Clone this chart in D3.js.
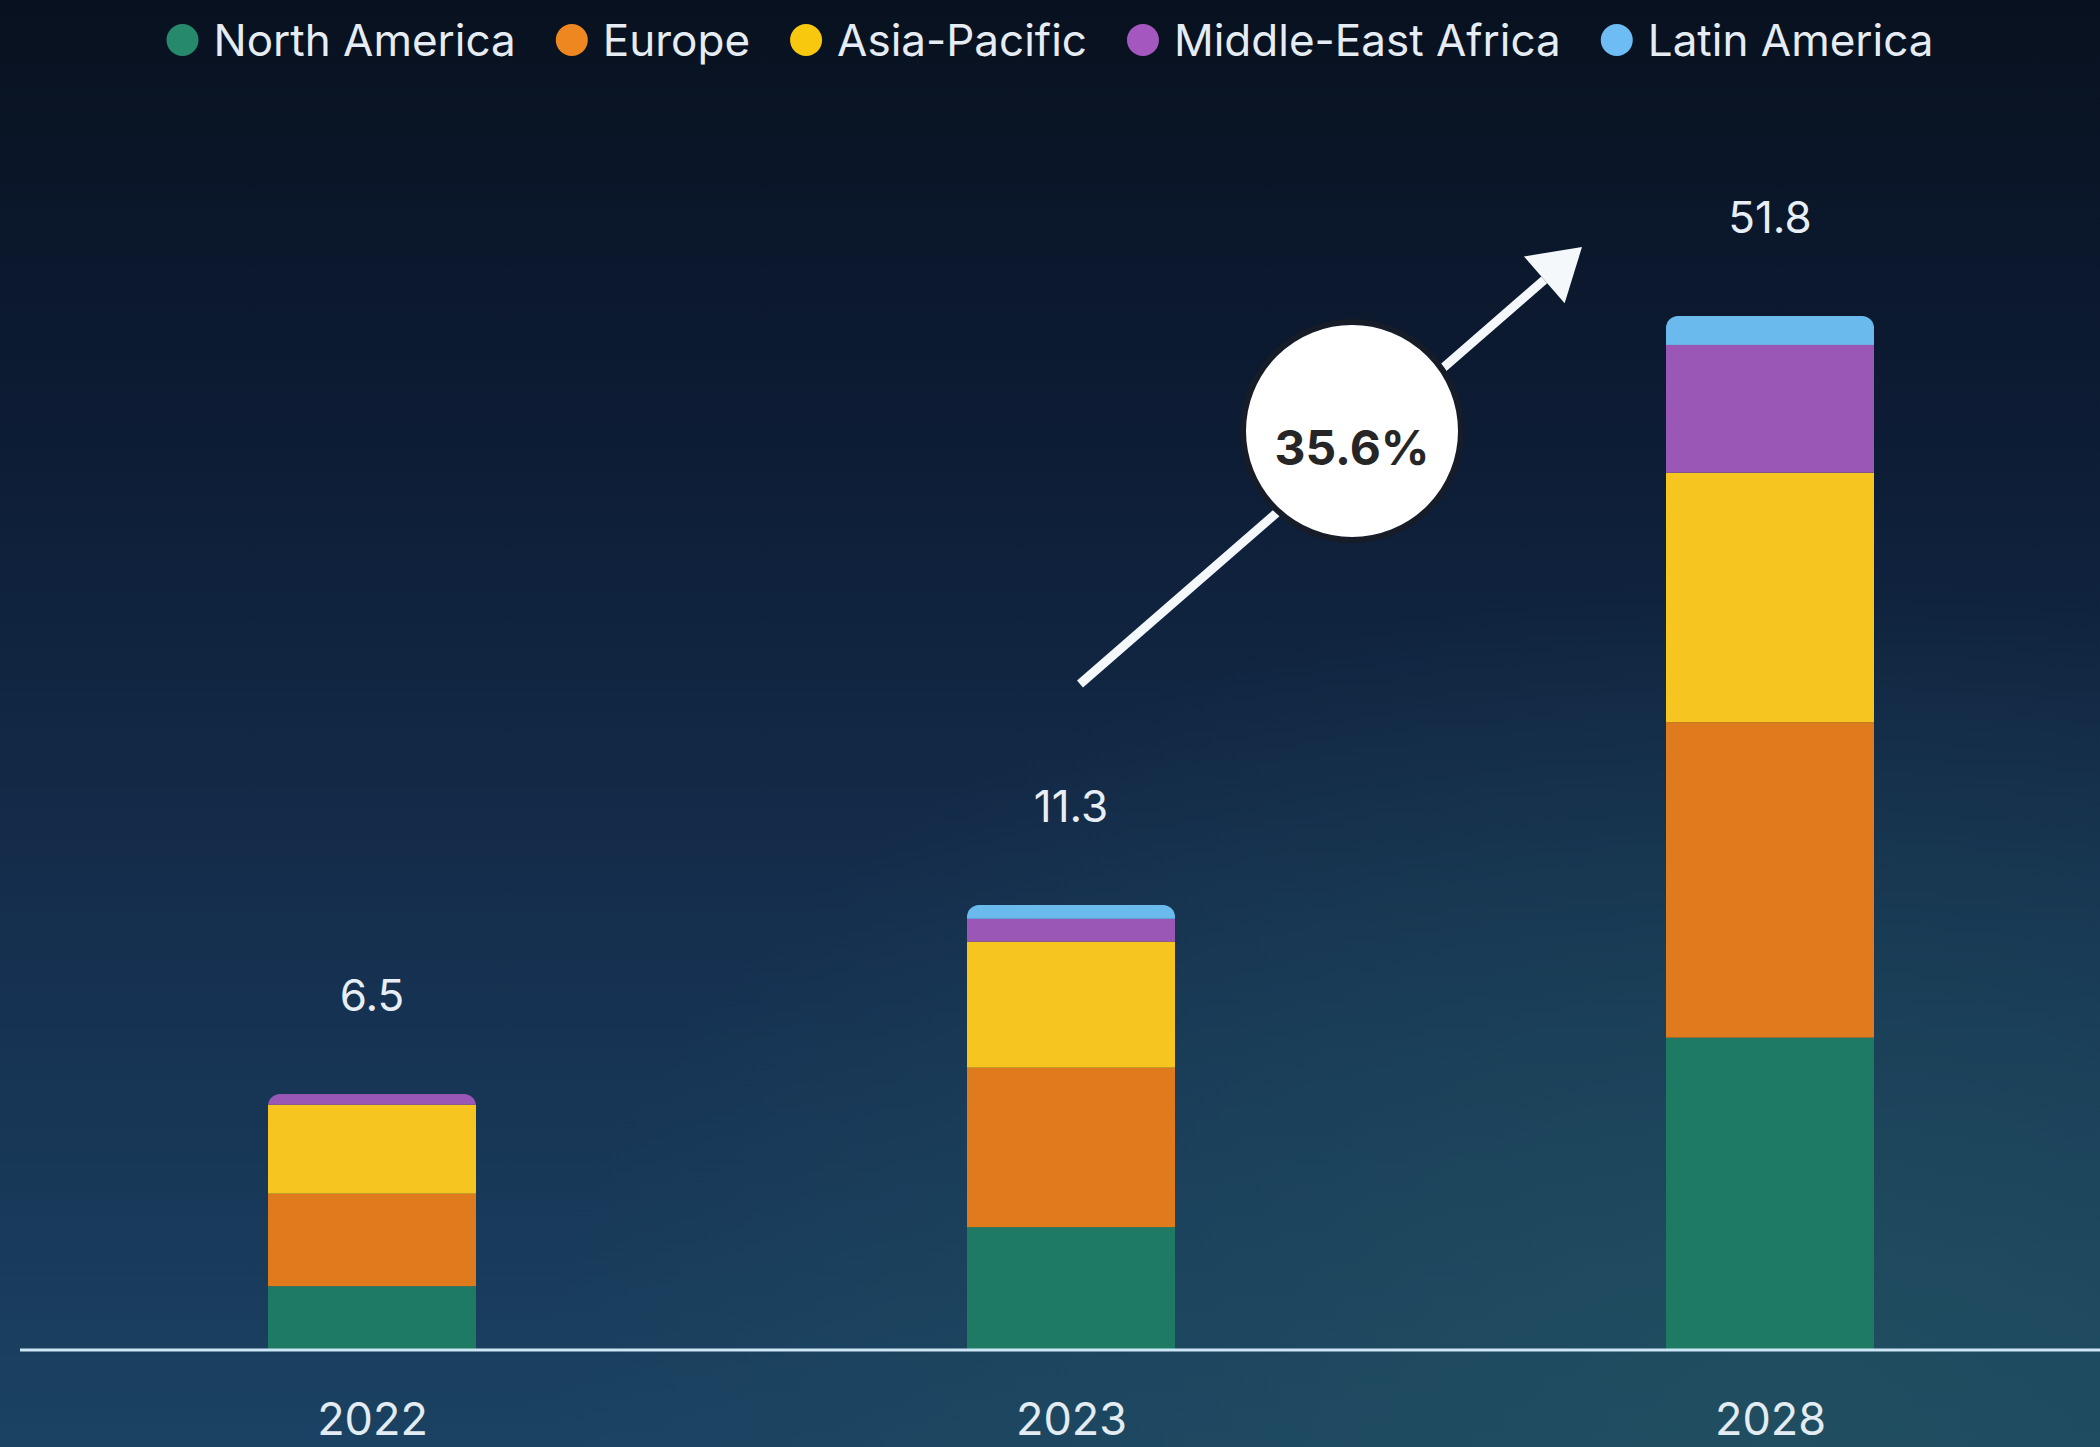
<!DOCTYPE html>
<html>
<head>
<meta charset="utf-8">
<script src="https://cdn.jsdelivr.net/npm/d3@7"></script>
<style>
  html, body { margin: 0; padding: 0; background: #0a1426; }
  svg { display: block; font-family: Inter, "Noto Sans", sans-serif; }
</style>
</head>
<body>
<svg id="chart" width="2100" height="1447"></svg>
<script>
// ---- data ----
const years = ["2022", "2023", "2028"];
const regions = ["North America", "Europe", "Asia-Pacific", "Middle-East Africa", "Latin America"];
const northAmerica = [1.62, 3.12, 15.65];
const europe       = [2.35, 4.05, 15.80];
const asiaPacific  = [2.26, 3.20, 12.50];
const middleEastAfrica = [0.27, 0.58, 6.40];
const latinAmerica = [0.00, 0.35, 1.45];
const totals = [6.5, 11.3, 51.8];
const cagrLabel = "35.6%";

const seriesValues = [northAmerica, europe, asiaPacific, middleEastAfrica, latinAmerica];
const barColors = ["#1f7a64", "#e07b1d", "#f6c51f", "#9a57b6", "#6bbaee"];
const legendColors = ["#27896c", "#ee871f", "#f8c80f", "#a457bf", "#6dbdf4"];

// ---- layout ----
const W = 2100, H = 1447;
const baseline = 1350;
const svg = d3.select("#chart");

// background
const defs = svg.append("defs");
const lg = defs.append("linearGradient").attr("id", "bg").attr("x1", 0).attr("y1", 0).attr("x2", 0).attr("y2", 1);
lg.append("stop").attr("offset", "0%").attr("stop-color", "#08111f");
lg.append("stop").attr("offset", "30%").attr("stop-color", "#0d1c35");
lg.append("stop").attr("offset", "70%").attr("stop-color", "#163252");
lg.append("stop").attr("offset", "100%").attr("stop-color", "#1b4262");
const rg = defs.append("radialGradient").attr("id", "bg2").attr("cx", 0.85).attr("cy", 1.0).attr("r", 0.6);
rg.append("stop").attr("offset", "0%").attr("stop-color", "#215060").attr("stop-opacity", 0.9);
rg.append("stop").attr("offset", "100%").attr("stop-color", "#215060").attr("stop-opacity", 0);
svg.append("rect").attr("width", W).attr("height", H).attr("fill", "url(#bg)");
svg.append("rect").attr("width", W).attr("height", H).attr("fill", "url(#bg2)");

// scales
const x = d3.scalePoint().domain(years).range([372, 1770]);
const barW = 208;
// broken (polylinear) height scale: the 2028 bar is compressed in the original graphic
const y = d3.scaleLinear().domain([0, totals[1], totals[2]]).range([baseline, baseline - 445, baseline - 1034]);

// stacked data
const rows = years.map((yr, i) => {
  const o = { year: yr, total: totals[i] };
  regions.forEach((r, j) => o[r] = seriesValues[j][i]);
  return o;
});
const stacked = d3.stack().keys(regions)(rows);

// clip paths with rounded top corners
rows.forEach((d, i) => {
  const top = y(d.total);
  defs.append("clipPath").attr("id", "clip" + i)
    .append("rect")
    .attr("x", x(d.year) - barW / 2).attr("y", top)
    .attr("width", barW).attr("height", baseline - top + 20)
    .attr("rx", 12).attr("ry", 12);
});

const barsG = svg.append("g");
stacked.forEach((layer, j) => {
  layer.forEach((seg, i) => {
    const d = rows[i];
    const inner = d3.scaleLinear().domain([0, d.total]).range([baseline, y(d.total)]);
    const v = seg[1] - seg[0];
    if (v <= 0) return;
    barsG.append("rect")
      .attr("clip-path", `url(#clip${i})`)
      .attr("x", x(d.year) - barW / 2)
      .attr("y", inner(seg[1]))
      .attr("width", barW)
      .attr("height", inner(seg[0]) - inner(seg[1]))
      .attr("fill", barColors[j]);
  });
});

// totals
svg.append("g").selectAll("text").data(rows).join("text")
  .attr("x", d => x(d.year))
  .attr("y", d => y(d.total) - 83)
  .attr("text-anchor", "middle")
  .attr("font-size", 44)
  .attr("fill", "#e8eef5")
  .text(d => d.total.toFixed(1));

// baseline
svg.append("line").attr("x1", 20).attr("x2", W).attr("y1", baseline).attr("y2", baseline)
  .attr("stroke", "#cde6f6").attr("stroke-width", 3);

// x axis labels
const xAxis = d3.axisBottom(x).tickSize(0).tickPadding(0);
const ax = svg.append("g").attr("transform", `translate(0,${baseline})`).call(xAxis);
ax.select(".domain").remove();
ax.selectAll("text").attr("font-size", 45).attr("fill", "#e3ecf3")
  .attr("font-family", "Inter, sans-serif").attr("dy", null).attr("y", 85);

// legend
const leg = svg.append("g");
let cx = 0;
regions.forEach((r, j) => {
  const g = leg.append("g");
  g.append("circle").attr("cx", 16).attr("cy", 0).attr("r", 16).attr("fill", legendColors[j]);
  const t = g.append("text").attr("x", 47).attr("y", 16).attr("font-size", 44)
    .attr("fill", "#e6ecf3").text(r);
  const w = 47 + t.node().getComputedTextLength();
  g.attr("transform", `translate(${cx},0)`);
  cx += w + 40;
});
const legW = cx - 40;
leg.attr("transform", `translate(${(W - legW) / 2},40)`);

// CAGR annotation
const ax0 = 1080, ay0 = 684, ax1 = 1582, ay1 = 247;
const ang = Math.atan2(ay1 - ay0, ax1 - ax0);
const headL = 50, headW = 62;
const bx = ax1 - headL * Math.cos(ang), by = ay1 - headL * Math.sin(ang);
svg.append("line").attr("x1", ax0).attr("y1", ay0).attr("x2", bx).attr("y2", by)
  .attr("stroke", "#f4f8fb").attr("stroke-width", 9);
const px = -Math.sin(ang), py = Math.cos(ang);
svg.append("polygon")
  .attr("points", [[ax1, ay1], [bx + px * headW / 2, by + py * headW / 2], [bx - px * headW / 2, by - py * headW / 2]].map(p => p.join(",")).join(" "))
  .attr("fill", "#f4f8fb");
svg.append("circle").attr("cx", 1352).attr("cy", 431).attr("r", 109)
  .attr("fill", "#ffffff").attr("stroke", "#161c28").attr("stroke-width", 6);
svg.append("text").attr("x", 1352).attr("y", 465).attr("text-anchor", "middle")
  .attr("font-size", 48).attr("font-weight", 700).attr("fill", "#262626").text(cagrLabel);
</script>
</body>
</html>
